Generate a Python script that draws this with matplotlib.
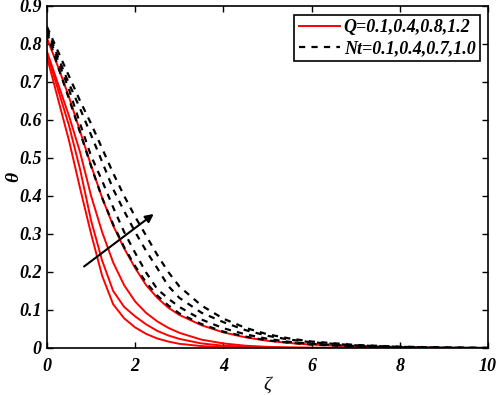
import matplotlib
matplotlib.use("Agg")
import matplotlib.pyplot as plt

# similarity variable zeta (sample points)
zeta = [0, 0.25, 0.5, 0.75, 1, 1.25, 1.5, 1.75, 2, 2.25, 2.5, 2.75, 3,
        3.5, 4, 4.5, 5, 5.5, 6, 7, 8, 9, 10]

# theta profiles, Q = 0.1, 0.4, 0.8, 1.2 (solid red)
theta_q1 = [.765, .655, .545, .42, .30, .19, .115, .078, .054, .037, .025, .017, .011,
            .005, .002, .001, .0005, 0, 0, 0, 0, 0, 0]
theta_q2 = [.775, .68, .585, .47, .335, .23, .15, .108, .083, .062, .045, .033, .024,
            .012, .006, .003, .0015, .0007, .0003, 0, 0, 0, 0]
theta_q3 = [.78, .695, .61, .515, .40, .305, .225, .165, .122, .092, .07, .053, .04,
            .022, .012, .006, .003, .0015, .0008, .0002, 0, 0, 0]
theta_q4 = [.815, .74, .66, .57, .48, .395, .322, .262, .21, .165, .132, .106, .087,
            .06, .041, .028, .019, .013, .009, .004, .0015, .0005, 0]

# theta profiles, Nt = 0.1, 0.4, 0.7, 1.0 (dashed black)
theta_nt1 = [.83, .74, .655, .567, .478, .395, .325, .265, .215, .172, .138, .112, .091,
             .063, .043, .03, .02, .014, .009, .004, .0015, .0005, 0]
theta_nt2 = [.835, .755, .68, .59, .505, .44, .37, .305, .25, .198, .155, .13, .108,
             .075, .052, .036, .024, .016, .011, .005, .002, .0007, 0]
theta_nt3 = [.84, .765, .695, .63, .56, .49, .418, .36, .305, .255, .21, .163, .132,
             .093, .068, .047, .032, .022, .015, .007, .003, .001, 0]
theta_nt4 = [.845, .78, .715, .65, .59, .525, .46, .40, .345, .295, .245, .2, .162,
             .112, .077, .053, .036, .025, .017, .008, .0035, .0015, .0005]

q_curves = [theta_q1, theta_q2, theta_q3, theta_q4]
nt_curves = [theta_nt1, theta_nt2, theta_nt3, theta_nt4]

xticks = [0, 2, 4, 6, 8, 10]
yticks = [0, 0.1, 0.2, 0.3, 0.4, 0.5, 0.6, 0.7, 0.8, 0.9]
ytick_labels = ["0", "0.1", "0.2", "0.3", "0.4", "0.5", "0.6", "0.7", "0.8", "0.9"]

font = dict(family="Liberation Serif", weight="bold", style="italic")

fig = plt.figure(figsize=(4.98, 3.95), dpi=100)
ax = fig.add_axes([0.0944, 0.119, 0.8856, 0.866])

for i, th in enumerate(q_curves):
    ax.plot(zeta, th, color="red", lw=1.4,
            label="Q=0.1,0.4,0.8,1.2" if i == 0 else None)
for i, th in enumerate(nt_curves):
    ax.plot(zeta, th, color="black", lw=1.6, linestyle=(0, (2.8, 2.8)),
            label="Nt=0.1,0.4,0.7,1.0" if i == 0 else None)

# arrow showing direction of increasing parameter
ax.annotate("", xy=(2.47, 0.357), xytext=(0.79, 0.21),
            arrowprops=dict(arrowstyle="-|>", color="black", lw=1.5,
                            mutation_scale=12))

ax.set_xlim(0, 10)
ax.set_ylim(0, 0.9)
ax.set_xticks(xticks)
ax.set_xticklabels([str(t) for t in xticks], fontsize=13, **font)
ax.set_yticks(yticks)
ax.set_yticklabels(ytick_labels, fontsize=13, **font)
ax.tick_params(direction="in", top=True, right=True, length=4, width=1)
ax.tick_params(axis="x", pad=7)
ax.tick_params(axis="y", pad=4)
for s in ax.spines.values():
    s.set_linewidth(1.2)

ax.set_xlabel("ζ", fontsize=14, family="Liberation Serif", style="italic")
ax.set_ylabel("θ", fontsize=14, family="Liberation Serif", style="italic",
              weight="bold")
ax.xaxis.set_label_coords(0.5, -0.085)
ax.yaxis.set_label_coords(-0.056, 0.5)

leg = ax.legend(loc="upper right", bbox_to_anchor=(0.982, 0.974), borderaxespad=0,
                fancybox=False, framealpha=1, edgecolor="black", handlelength=2.3,
                handletextpad=0.2, borderpad=0.25, labelspacing=0.2,
                prop=dict(size=13, **font))
leg.get_frame().set_linewidth(1.2)

fig.savefig("out.png", dpi=100)
